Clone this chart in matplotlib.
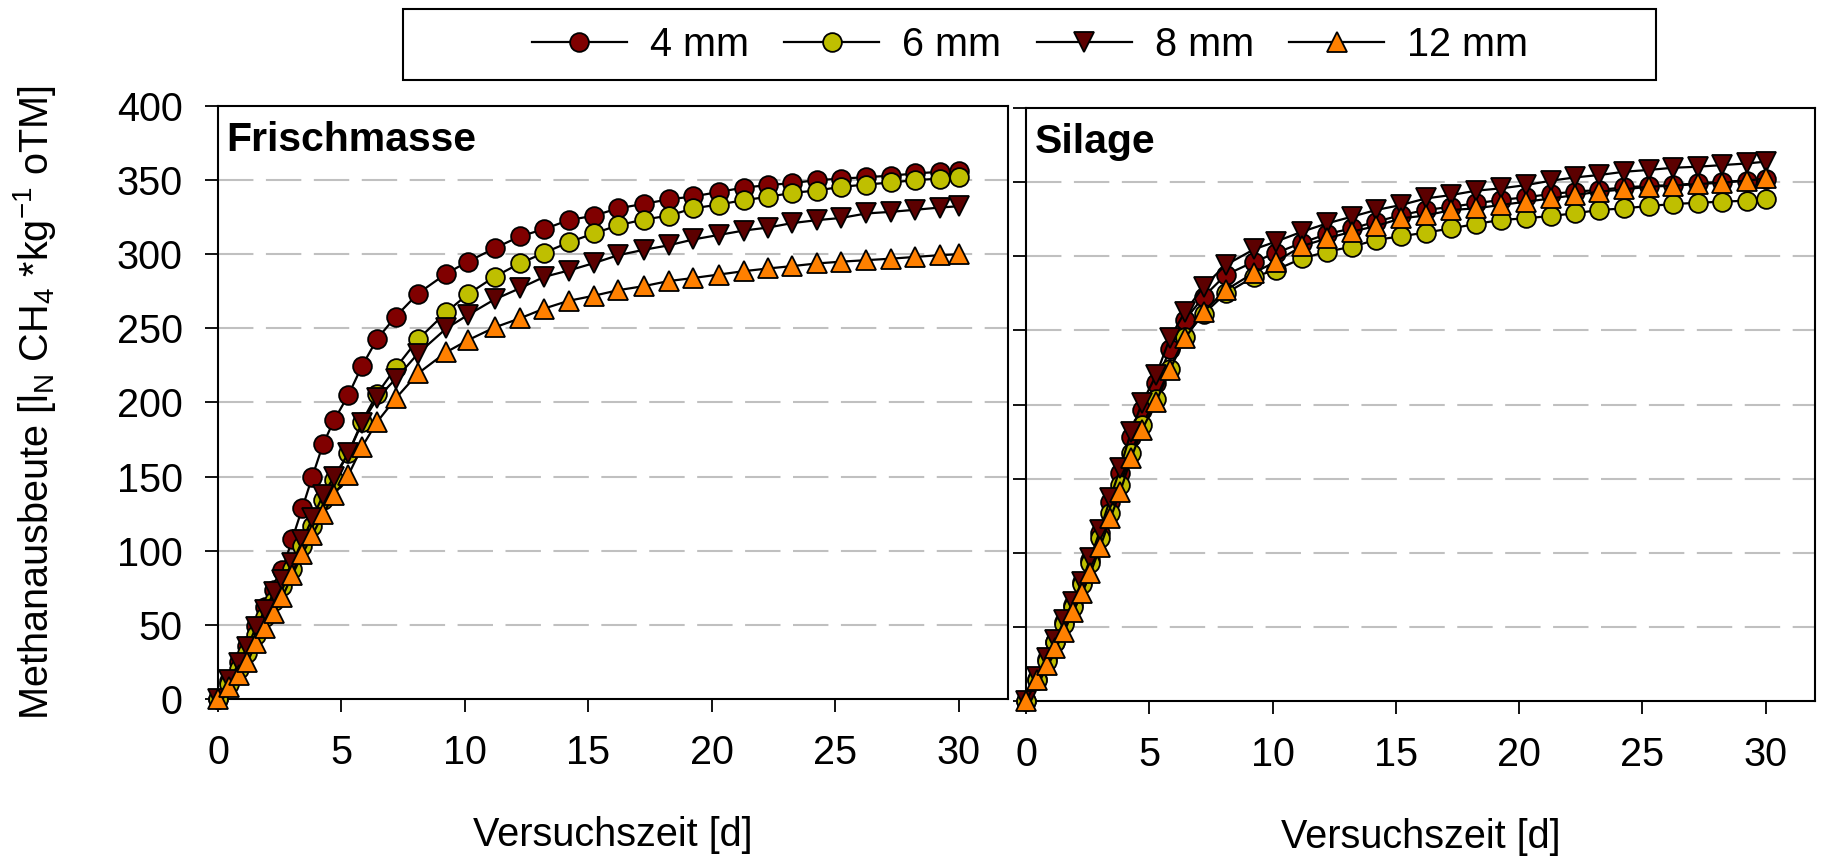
import matplotlib
matplotlib.use("Agg")
import matplotlib.pyplot as plt
from matplotlib.patches import Rectangle

plt.rcParams['font.family'] = ['Liberation Sans', 'DejaVu Sans']
plt.rcParams['mathtext.fontset'] = 'custom'
plt.rcParams['mathtext.rm'] = 'Liberation Sans'
plt.rcParams['mathtext.it'] = 'Liberation Sans'

# Versuchszeit [d]
tage = [0, 0.45, 0.85, 1.19, 1.55, 1.9, 2.27, 2.61, 3.01, 3.42,
        3.82, 4.26, 4.7, 5.28, 5.83, 6.45, 7.2, 8.1, 9.25, 10.12,
        11.2, 12.22, 13.22, 14.2, 15.22, 16.22, 17.25, 18.25, 19.26, 20.28,
        21.3, 22.28, 23.25, 24.26, 25.25, 26.25, 27.25, 28.24, 29.24, 30.0]

# Frischmasse
fm_4 = [0, 12, 25, 36, 49, 62, 73.5, 87, 108, 129,
        150, 172, 188, 205, 224.5, 243, 258, 273.5, 287, 295,
        304, 312, 317, 323, 326, 331, 334, 337, 339, 342,
        345, 346.6, 348, 350, 351, 352, 353, 354.5, 355.6, 356]
fm_6 = [0, 10, 20, 31, 43, 55, 66, 76, 88, 103,
        117, 134, 148, 166, 187, 206, 223.4, 242.5, 261, 273,
        284.8, 293.8, 301, 308, 314, 319.6, 323.4, 326, 331, 333.5,
        336.5, 338.7, 341.4, 343, 345.5, 347, 348.4, 350, 351, 351.8]
fm_8 = [0, 12.8, 24, 35, 48.8, 60, 72, 80, 91.5, 107,
        121.8, 137.6, 150, 165.7, 186, 202.8, 216, 233, 250, 259,
        269.5, 277, 284.8, 289, 294, 299.4, 303, 306, 310, 313,
        316, 318, 321, 323, 324.5, 327.5, 328.6, 330, 331.5, 332.4]
fm_12 = [0, 8.3, 16, 25, 37.6, 47.7, 57.8, 69, 83.6, 97.8,
         110.6, 125, 137.6, 151, 170, 187, 202.8, 219.6, 234, 242,
         250.6, 256.7, 263.4, 268.6, 272, 275.8, 278.5, 281.9, 284, 286.3,
         288.6, 290.4, 292, 293.8, 295, 296, 297, 298.2, 299.4, 300]

# Silage
si_4 = [0, 15, 28, 40, 53, 65, 80, 95, 113, 134,
        154, 178, 196, 214.3, 237.2, 257, 272.7, 287.4, 296.3, 302,
        309.2, 315, 318.8, 323.3, 327.8, 331.2, 333.4, 335.7, 338, 339.8,
        342, 343.6, 344.7, 346.5, 347.4, 348, 349.2, 350.3, 351, 352]
si_6 = [0, 14, 27, 40, 52, 63.6, 79, 93, 110, 127,
        146, 167, 186, 204, 224, 245.7, 261, 275, 286.2, 290.7,
        298.6, 303.1, 306.5, 311, 313.5, 316, 318.8, 321.8, 324.5, 325.6,
        327.2, 329, 331.2, 332.3, 333.9, 335.2, 336.1, 336.8, 337.5, 338.4]
si_8 = [0, 16.4, 28.8, 41.1, 54.6, 67, 80.5, 96.3, 115.3, 136.7,
        157, 181.6, 200.8, 219.9, 244.6, 262.6, 279.5, 294.1, 304.7, 309.8,
        316.6, 322.2, 326.7, 331.2, 334.6, 339, 341.3, 344.2, 345.8, 348,
        351, 353.2, 354.8, 357, 358.2, 359.7, 360.4, 361.5, 362.6, 363.8]
si_12 = [0, 14.2, 24.3, 35.5, 46.7, 60.2, 72.6, 86.1, 104, 123.2,
         141.2, 163.7, 182.8, 201.9, 223.3, 244.6, 262.6, 277.2, 288.9, 296.3,
         306.9, 312.1, 316.6, 320.4, 325.6, 327.5, 331.2, 332.3, 334.6, 336.8,
         339, 341.3, 343.6, 345.1, 346.9, 347.6, 348.7, 349.6, 351, 352.5]

labels = ['4 mm', '6 mm', '8 mm', '12 mm']
farben = ['#800000', '#bfbf00', '#5c0000', '#ff8000']
marker = ['o', 'o', 'v', '^']
msize = [13.5, 13.5, 14.5, 14.5]

fs = 28.5

fig = plt.figure(figsize=(18.21, 8.56), dpi=100)
ax1 = fig.add_axes([218 / 1821, 1 - 699 / 856, 790 / 1821, 593 / 856])
ax2 = fig.add_axes([1026 / 1821, 1 - 701 / 856, 789 / 1821, 593 / 856])

panels = [(ax1, [fm_4, fm_6, fm_8, fm_12], 'Frischmasse'),
          (ax2, [si_4, si_6, si_8, si_12], 'Silage')]

for ax, reihen, titel in panels:
    for werte, lab, c, m, ms in zip(reihen, labels, farben, marker, msize):
        ax.plot(tage, werte, color='black', lw=1.6, marker=m, ms=ms,
                markerfacecolor=c, markeredgecolor='black', markeredgewidth=1.3,
                label=lab, clip_on=False, zorder=3)
    ax.set_xlim(0, 32)
    ax.set_ylim(0, 400)
    ax.set_xticks([0, 5, 10, 15, 20, 25, 30])
    ax.set_yticks(range(0, 401, 50))
    for y in range(50, 400, 50):
        ax.axhline(y, color='#c0c0c0', lw=1.5, dashes=(17, 6), zorder=1)
    ax.tick_params(direction='out', length=9.5, width=1.3, labelsize=fs, pad=16)
    for s in ax.spines.values():
        s.set_linewidth(1.5)
    ax.text(0.011, 0.924, titel, transform=ax.transAxes, fontsize=29.5,
            fontweight='bold', va='baseline', ha='left')
    ax.set_xlabel('Versuchszeit [d]', fontsize=fs, va='top')
    ax.xaxis.set_label_coords(0.5, -0.198)

ax2.tick_params(axis='y', labelleft=False)
ax1.set_ylabel(r'Methanausbeute [l$_\mathrm{N}$ CH$_\mathrm{4}$ *kg$^\mathrm{-1}$ oTM]', fontsize=fs)
ax1.yaxis.set_label_coords(-0.2025, 0.5)

# Legende oben
h, l = ax1.get_legend_handles_labels()
leg = fig.legend(h, l, loc='center', bbox_to_anchor=(1030 / 1821, 1 - 45 / 856),
                 ncol=4, frameon=False, fontsize=fs, handlelength=2.4,
                 handletextpad=0.58, columnspacing=0.9)
fig.add_artist(Rectangle((403 / 1821, 1 - 80 / 856), 1253 / 1821, 71 / 856,
                         transform=fig.transFigure, fill=False,
                         edgecolor='black', lw=1.5))

fig.savefig('out.png', dpi=100)
